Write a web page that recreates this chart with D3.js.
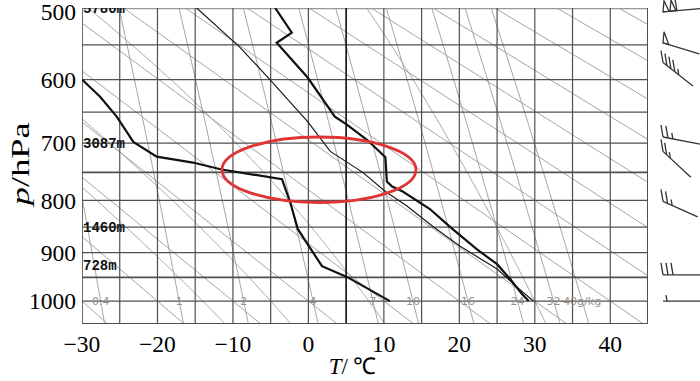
<!DOCTYPE html>
<html lang="en">

<head>
    <meta charset="UTF-8">
    <title>T-lnP</title>
    <script src="https://d3js.org/d3.v7.min.js"></script>
    <style>
        html,
        body {
            margin: 0;
            background: #fff;
            overflow: hidden;
        }
    </style>
</head>

<body>
    <svg id="svg"></svg>
    <script>
        // sounding
        const tempP = [500, 533, 547, 597, 657, 670, 695, 724, 766, 775, 784, 816, 850, 893, 923, 953, 985, 1000];
        const tempT = [-4.4, -2.2, -4.2, -0.1, 3.5, 5.1, 7.8, 10.2, 10.4, 11.1, 12.5, 16.1, 18.8, 22.3, 25.0, 26.7, 28.3, 29.2];
        const dewP = [600, 626, 657, 698, 723, 733, 745, 762, 804, 854, 927, 949, 1000];
        const dewT = [-30, -27.6, -25.4, -23.2, -20.1, -15.3, -11.5, -3.5, -2.4, -1.4, 1.8, 5.1, 10.8];
        const parcelP = [500, 553, 600, 665, 714, 750, 784, 811, 849, 887, 933, 975, 1000];
        const parcelT = [-14.8, -9.1, -5.1, -0.1, 2.9, 7.2, 10.2, 13.1, 16.5, 20.1, 25.0, 28.0, 29.8];

        // background lines
        const mixRatios = [0.4, 1, 2, 4, 7, 10, 16, 24, 32, 40];
        const dryTheta = [-30, -20, -10, 0, 10, 20, 30, 40, 50, 60, 70, 80, 90, 100, 110];
        const moistT0 = [-14, -5, 8, 30];

        // axes
        const pTicks = [500, 600, 700, 800, 900, 1000];
        const tTicks = [-30, -20, -10, 0, 10, 20, 30, 40];

        // standard level heights
        const hgtP = [500, 700, 850, 925];
        const hgtLabel = ['5780m', '3087m', '1460m', '728m'];

        // wind barbs (staff tilt in degrees, speed in m/s)
        const windP = [505, 547, 575, 690, 714, 802, 945, 1000];
        const windTilt = [-5, 17, 38, 11, 43, 24, 0, 0];
        const windSpd = [44, 20, 18, 10, 10, 10, 12, 2];

        // highlighted area
        const ringT = 1.4, ringHalfT = 12.85, ringTopP = 690, ringBotP = 804;

        const width = 700, height = 381;
        const margin = { top: 8, left: 82, right: 52, bottom: 57 };
        const svg = d3.select('#svg').attr('width', width).attr('height', height);

        const x = d3.scaleLinear().domain([-30, 45]).range([margin.left, width - margin.right]);
        const y = d3.scalePow().exponent(0.286).domain([500, 1050]).range([margin.top, height - margin.bottom]);

        svg.append('clipPath').attr('id', 'plot')
            .append('rect')
            .attr('x', x(-30)).attr('y', y(500))
            .attr('width', x(45) - x(-30)).attr('height', y(1050) - y(500));

        const line = d3.line().x(d => x(d[0])).y(d => y(d[1]));
        const pLevels = d3.range(500, 1051, 5);

        // Td for a mixing ratio (g/kg) at pressure p
        const tdOf = (w, p) => {
            const e = w * p / (622 + w);
            const l = Math.log(e / 6.112);
            return 243.5 * l / (17.67 - l);
        };
        const moistLapse = (p, T) => {
            const es = 6.112 * Math.exp(17.67 * (T - 273.15) / (T - 29.65));
            const rs = 0.622 * es / (p - es);
            const num = 287.04 * T + 2.501e6 * rs;
            const den = 1005.7 + 2.501e6 * 2.501e6 * rs * 0.622 / (287.04 * T * T);
            return num / den / p;
        };
        const moistPath = t0 => {
            const up = [], down = [];
            let T = t0 + 273.15;
            for (let p = 1000; p >= 500; p -= 2) {
                up.push([T - 273.15, p]);
                const k1 = moistLapse(p, T);
                const k2 = moistLapse(p - 1, T - k1);
                T -= (k1 + k2);
            }
            T = t0 + 273.15;
            for (let p = 1000; p <= 1050; p += 2) {
                down.push([T - 273.15, p]);
                const k1 = moistLapse(p, T);
                const k2 = moistLapse(p + 1, T + k1);
                T += (k1 + k2);
            }
            return down.reverse().concat(up);
        };

        const g = svg.append('g').attr('clip-path', 'url(#plot)');

        // dry adiabats
        g.selectAll('.dry').data(dryTheta).join('path')
            .attr('class', 'dry')
            .attr('d', th => line(pLevels.map(p => [(th + 273.15) * Math.pow(p / 1000, 0.286) - 273.15, p])))
            .attr('fill', 'none').attr('stroke', '#a3a3a3').attr('stroke-width', 1);

        // moist adiabats
        g.selectAll('.moist').data(moistT0).join('path')
            .attr('class', 'moist')
            .attr('d', t0 => line(moistPath(t0)))
            .attr('fill', 'none').attr('stroke', '#a3a3a3').attr('stroke-width', 1);

        // mixing ratio lines
        g.selectAll('.mix').data(mixRatios).join('path')
            .attr('class', 'mix')
            .attr('d', w => line(pLevels.map(p => [tdOf(w, p), p])))
            .attr('fill', 'none').attr('stroke', '#a3a3a3').attr('stroke-width', 1);

        // grid
        g.selectAll('.hgrid').data(d3.range(500, 1051, 50)).join('line')
            .attr('class', 'hgrid')
            .attr('x1', x(-30)).attr('x2', x(45))
            .attr('y1', d => y(d)).attr('y2', d => y(d))
            .attr('stroke', d => d === 500 ? '#999' : '#505050')
            .attr('stroke-width', d => d === 500 ? 2.4 : (d === 750 || d === 950) ? 1.7 : 1.2);
        g.selectAll('.vgrid').data(d3.range(-30, 46, 5)).join('line')
            .attr('class', 'vgrid')
            .attr('x1', d => x(d)).attr('x2', d => x(d))
            .attr('y1', y(500)).attr('y2', y(1050))
            .attr('stroke', d => d === 5 ? '#1a1a1a' : '#505050')
            .attr('stroke-width', d => (d === 5 || d === -30) ? 1.7 : 1.2);
        g.append('line')
            .attr('x1', x(-30)).attr('x2', x(45)).attr('y1', y(1050)).attr('y2', y(1050))
            .attr('stroke', '#505050').attr('stroke-width', 2);
        g.append('line')
            .attr('x1', x(45)).attr('x2', x(45)).attr('y1', y(500)).attr('y2', y(1050))
            .attr('stroke', '#505050').attr('stroke-width', 2);

        // mixing ratio labels
        g.selectAll('.mixlab').data(mixRatios).join('text')
            .attr('class', 'mixlab')
            .attr('x', w => x(tdOf(w, 1000)))
            .attr('y', y(1000))
            .attr('dy', '0.35em')
            .attr('text-anchor', 'middle')
            .attr('font-family', 'DejaVu Sans, sans-serif')
            .attr('font-size', 11)
            .attr('fill', '#98908f')
            .text((w, i) => i === mixRatios.length - 1 ? w + 'g/kg' : w);

        // heights
        g.selectAll('.hgt').data(hgtP).join('text')
            .attr('class', 'hgt')
            .attr('x', x(-30) + 1)
            .attr('y', p => y(p))
            .attr('dy', '0.35em')
            .attr('font-family', 'Liberation Mono, monospace')
            .attr('font-weight', 'bold')
            .attr('font-size', 14)
            .attr('fill', '#111')
            .text((p, i) => hgtLabel[i]);

        // sounding curves
        g.append('path')
            .attr('d', line(parcelT.map((t, i) => [t, parcelP[i]])))
            .attr('fill', 'none').attr('stroke', '#1a1a1a').attr('stroke-width', 1.2);
        g.append('path')
            .attr('d', line(tempT.map((t, i) => [t, tempP[i]])))
            .attr('fill', 'none').attr('stroke', '#111').attr('stroke-width', 2.2);
        g.append('path')
            .attr('d', line(dewT.map((t, i) => [t, dewP[i]])))
            .attr('fill', 'none').attr('stroke', '#111').attr('stroke-width', 2.2);

        // red ellipse
        svg.append('ellipse')
            .attr('cx', x(ringT))
            .attr('cy', (y(ringTopP) + y(ringBotP)) / 2)
            .attr('rx', x(ringT + ringHalfT) - x(ringT))
            .attr('ry', (y(ringBotP) - y(ringTopP)) / 2)
            .attr('fill', 'none').attr('stroke', '#e03535').attr('stroke-width', 2.8);

        // axis tick labels
        svg.selectAll('.ptick').data(pTicks).join('text')
            .attr('class', 'ptick')
            .attr('x', margin.left - 6)
            .attr('y', p => Math.max(y(p), 12))
            .attr('dy', '0.35em')
            .attr('text-anchor', 'end')
            .attr('font-family', 'Liberation Serif, serif')
            .attr('font-size', 23.5)
            .text(p => p);
        svg.selectAll('.ttick').data(tTicks).join('text')
            .attr('class', 'ttick')
            .attr('x', t => x(t))
            .attr('y', height - margin.bottom + 20)
            .attr('dy', '0.35em')
            .attr('text-anchor', 'middle')
            .attr('font-family', 'Liberation Serif, serif')
            .attr('font-size', 23.5)
            .text(t => t < 0 ? '\u2212' + Math.abs(t) : t);

        // axis titles
        const xt = svg.append('text')
            .attr('x', x(5.8)).attr('y', height - 15)
            .attr('dy', '0.35em')
            .attr('text-anchor', 'middle')
            .attr('font-family', 'Liberation Serif, serif')
            .attr('font-size', 23);
        xt.append('tspan').attr('font-style', 'italic').text('T');
        xt.append('tspan').text('/\u2009\u2103');

        const yt = svg.append('text')
            .attr('transform', `translate(20, ${y(735)}) rotate(-90) scale(1.4, 1)`)
            .attr('dy', '0.35em')
            .attr('text-anchor', 'middle')
            .attr('font-family', 'Liberation Serif, serif')
            .attr('font-size', 26);
        yt.append('tspan').attr('font-style', 'italic').text('p');
        yt.append('tspan').text('/hPa');

        // wind barbs: foot on the left, feathers pointing up
        const barbG = svg.append('g')
            .attr('fill', 'none').attr('stroke', '#333').attr('stroke-width', 1.3);
        windP.forEach((p, i) => {
            const fx = x(45) + 15, fy = y(p);
            const a = windTilt[i] * Math.PI / 180;
            const ux = Math.cos(a), uy = Math.sin(a);
            const len = 38;
            barbG.append('line')
                .attr('x1', fx).attr('y1', fy)
                .attr('x2', fx + len * ux).attr('y2', fy + len * uy);
            let s = windSpd[i], pos = 0;
            const at = d => [fx + d * ux, fy + d * uy];
            while (s >= 20) {
                const [ax, ay] = at(pos), [bx, by] = at(pos + 6);
                barbG.append('path')
                    .attr('d', `M${ax},${ay}L${ax + 1},${ay - 11}L${bx},${by}Z`);
                pos += 7; s -= 20;
            }
            while (s >= 4) {
                const [ax, ay] = at(pos);
                barbG.append('line')
                    .attr('x1', ax).attr('y1', ay).attr('x2', ax - 2).attr('y2', ay - 12);
                pos += 5; s -= 4;
            }
            if (s >= 2) {
                const [ax, ay] = at(pos === 0 ? 4 : pos);
                barbG.append('line')
                    .attr('x1', ax).attr('y1', ay).attr('x2', ax - 1).attr('y2', ay - 6);
            }
        });
    </script>
</body>

</html>
